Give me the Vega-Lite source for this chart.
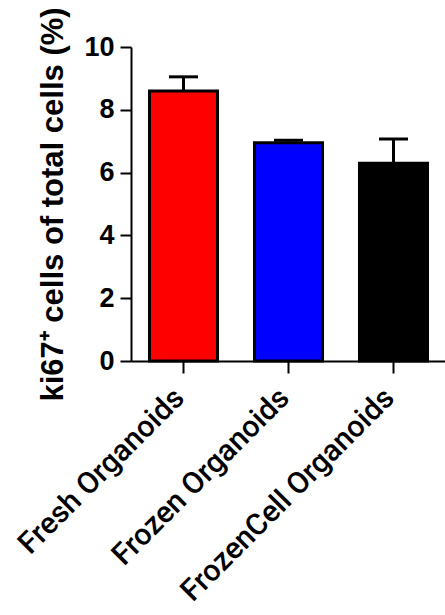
{
  "$schema": "https://vega.github.io/schema/vega-lite/v6.json",
  "width": 315,
  "height": 314,
  "autosize": "none",
  "padding": {"left": 131, "top": 47, "right": 0, "bottom": 254},
  "background": "white",
  "data": {
    "values": [
      {"group": "Fresh Organoids", "value": 8.6, "upper": 9.05},
      {"group": "Frozen Organoids", "value": 6.95, "upper": 7.03},
      {"group": "FrozenCell Organoids", "value": 6.3, "upper": 7.07}
    ]
  },
  "encoding": {
    "x": {
      "field": "group",
      "type": "nominal",
      "sort": null,
      "scale": {"paddingInner": 0.352, "paddingOuter": 0.176},
      "axis": {
        "title": null,
        "labelAngle": -45,
        "labelAlign": "right",
        "labelBaseline": "middle",
        "labelFont": "Roboto",
        "labelFontWeight": 500,
        "labelFontSize": 30,
        "labelColor": "black",
        "labelPadding": 20,
        "labelOffset": -4,
        "labelLimit": 0,
        "labelOverlap": false,
        "domainColor": "black",
        "domainWidth": 2,
        "tickColor": "black",
        "tickWidth": 2,
        "tickSize": 12,
        "grid": false
      }
    }
  },
  "layer": [
    {
      "mark": {"type": "rule", "color": "black", "strokeWidth": 3},
      "encoding": {
        "y": {"field": "value", "type": "quantitative"},
        "y2": {"field": "upper"}
      }
    },
    {
      "mark": {"type": "tick", "color": "black", "thickness": 3, "size": 29, "opacity": 1},
      "encoding": {
        "y": {"field": "upper", "type": "quantitative"}
      }
    },
    {
      "mark": {"type": "bar", "stroke": "black", "strokeWidth": 3, "opacity": 1},
      "encoding": {
        "y": {
          "field": "value",
          "type": "quantitative",
          "scale": {"domain": [0, 10], "nice": false},
          "axis": {
            "title": "ki67⁺ cells of total cells (%)",
            "titleFont": "Liberation Sans",
            "titleFontSize": 31,
            "titleFontWeight": "bold",
            "titleColor": "black",
            "titlePadding": 14,
            "values": [0, 2, 4, 6, 8, 10],
            "labelFont": "Liberation Sans",
            "labelFontSize": 27,
            "labelFontWeight": "bold",
            "labelColor": "black",
            "labelPadding": 6,
            "domainColor": "black",
            "domainWidth": 2,
            "tickColor": "black",
            "tickWidth": 2,
            "tickSize": 11,
            "grid": false
          }
        },
        "color": {
          "field": "group",
          "type": "nominal",
          "sort": null,
          "scale": {"range": ["#ff0000", "#0000ff", "#000000"]},
          "legend": null
        }
      }
    }
  ],
  "config": {"view": {"stroke": null}}
}
